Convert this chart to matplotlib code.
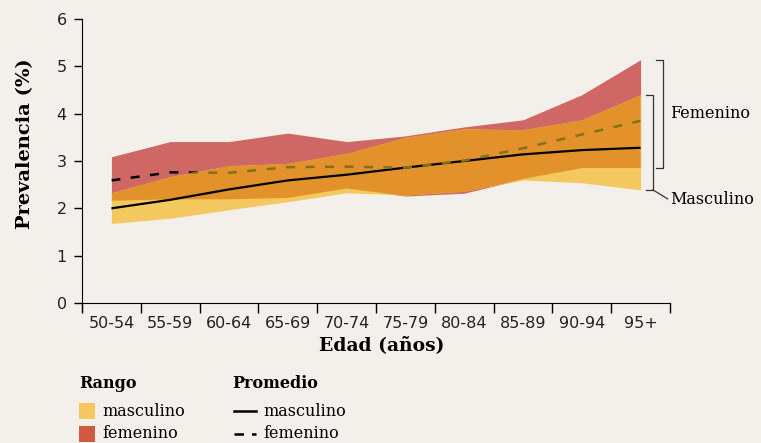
import numpy as np
import matplotlib as mpl
mpl.use('Agg')
import matplotlib.pyplot as plt
from matplotlib.patches import Rectangle
from matplotlib.lines import Line2D
from matplotlib.path import Path

# datos
edades = ['50-54', '55-59', '60-64', '65-69', '70-74', '75-79', '80-84', '85-89', '90-94', '95+']
masc_bajo = [1.68, 1.79, 1.97, 2.14, 2.33, 2.28, 2.36, 2.60, 2.54, 2.39]
masc_alto = [2.33, 2.67, 2.90, 2.95, 3.16, 3.50, 3.68, 3.66, 3.87, 4.40]
fem_bajo = [2.16, 2.19, 2.19, 2.22, 2.42, 2.26, 2.32, 2.62, 2.85, 2.85]
fem_alto = [3.09, 3.41, 3.41, 3.59, 3.41, 3.53, 3.72, 3.87, 4.40, 5.14]
masc_prom = [2.00, 2.18, 2.40, 2.59, 2.71, 2.86, 3.00, 3.14, 3.23, 3.28]
fem_prom = [2.59, 2.76, 2.75, 2.87, 2.88, 2.86, 3.01, 3.27, 3.56, 3.85]

fondo = '#f3f0eb'
amarillo = '#f3c95f'
rojo = '#cf6765'
naranja = '#e3922b'
oliva = '#827116'
serif = 'DejaVu Serif'

W, H = 761, 443
fig = plt.figure(figsize=(W / 100, H / 100), dpi=100, facecolor=fondo)
ax = fig.add_axes([82 / W, 1 - 303 / H, (670 - 82) / W, (303 - 19) / H])
ax.set_facecolor(fondo)

x = np.arange(len(edades))

# rangos: femenino, masculino y su solape
f_fem = ax.fill_between(x, fem_bajo, fem_alto, color=rojo, lw=0)
f_masc = ax.fill_between(x, masc_bajo, masc_alto, color=amarillo, lw=0)
f_sol = ax.fill_between(x, masc_bajo, masc_alto, color=naranja, lw=0)
f_sol.set_clip_path(f_fem.get_paths()[0], ax.transData)

# promedios
ax.plot(x, masc_prom, color='black', lw=1.6, solid_capstyle='butt')
guiones = (3.6, 4.2)
# parte del promedio femenino fuera del rango masculino -> negro
arriba = list(zip(x, masc_alto)) + [(x[-1], 10), (x[0], 10), (x[0], masc_alto[0])]
l_ne, = ax.plot(x, fem_prom, color='black', lw=1.8, dashes=guiones)
l_ne.set_clip_path(Path(arriba, closed=True), ax.transData)
# dentro del rango masculino -> oliva
l_ol, = ax.plot(x, fem_prom, color=oliva, lw=1.8, dashes=guiones)
l_ol.set_clip_path(f_masc.get_paths()[0], ax.transData)

ax.set_xlim(-0.5, len(edades) - 0.5)
ax.set_ylim(0, 6)
ax.set_xticks(x)
ax.set_xticklabels(edades)
ax.set_xticks(np.arange(len(edades) + 1) - 0.5, minor=True)
ax.tick_params(axis='x', which='major', length=0, pad=9, labelsize=11.5)
ax.tick_params(axis='x', which='minor', length=7, width=1)
ax.tick_params(axis='y', length=6, width=1, labelsize=11.5, pad=5)
ax.tick_params(axis='both', colors='black', labelcolor='#222222')
ax.spines['top'].set_visible(False)
ax.spines['right'].set_visible(False)
ax.spines['left'].set_bounds(-0.17, 6)
ax.set_ylabel('Prevalencia (%)', family=serif, weight='bold', fontsize=14)
ax.yaxis.set_label_coords(-0.082, 0.56)
ax.set_xlabel('Edad (años)', family=serif, weight='bold', fontsize=13.5)
ax.xaxis.set_label_coords(0.51, -0.117)

# corchetes a la derecha
xf, xm = 9.38, 9.21
for xc, lo, hi in [(xf, fem_bajo[-1], fem_alto[-1]), (xm, masc_bajo[-1], masc_alto[-1])]:
    ax.plot([xc - 0.12, xc, xc, xc - 0.12], [hi, hi, lo, lo], color='#333333', lw=0.9, clip_on=False)
ax.plot([xm, xm + 0.25], [masc_bajo[-1], masc_bajo[-1] - 0.19], color='#333333', lw=0.9, clip_on=False)
ax.text(9.5, (fem_bajo[-1] + fem_alto[-1]) / 2, 'Femenino', family=serif, fontsize=11.5,
        va='center', ha='left', clip_on=False)
ax.text(9.5, masc_bajo[-1] - 0.2, 'Masculino', family=serif, fontsize=11.5,
        va='center', ha='left', clip_on=False)

# leyenda manual
def px(xp, yp):
    return xp / W, 1 - yp / H

fig.text(*px(79, 383), 'Rango', family=serif, weight='bold', fontsize=11.5, va='center')
fig.text(*px(232, 383), 'Promedio', family=serif, weight='bold', fontsize=11.5, va='center')
for yp, col, lab in [(411, '#f8c860', 'masculino'), (434, '#d05a40', 'femenino')]:
    fig.patches.append(Rectangle(px(79, yp + 8), 16 / W, 16 / H, transform=fig.transFigure,
                                 facecolor=col, lw=0))
    fig.text(*px(102, yp), lab, family=serif, fontsize=11.5, va='center')
fig.lines.append(Line2D([234 / W, 256 / W], [1 - 411 / H] * 2, transform=fig.transFigure,
                        color='black', lw=1.8))
fig.lines.append(Line2D([234 / W, 256 / W], [1 - 434 / H] * 2, transform=fig.transFigure,
                        color='black', lw=1.8, dashes=(3.8, 3.2)))
fig.text(*px(263, 411), 'masculino', family=serif, fontsize=11.5, va='center')
fig.text(*px(263, 434), 'femenino', family=serif, fontsize=11.5, va='center')

fig.savefig('out.png', dpi=100, facecolor=fondo)
